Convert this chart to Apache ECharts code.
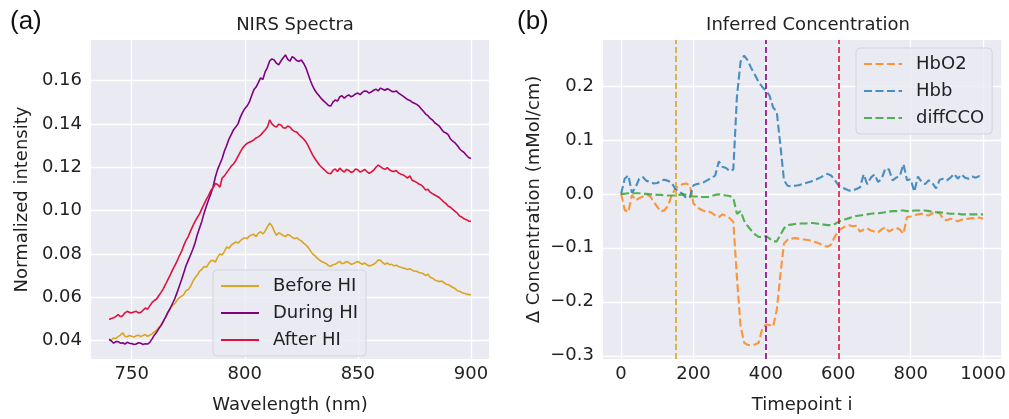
<!DOCTYPE html>
<html>
<head>
<meta charset="utf-8">
<script src="https://cdn.jsdelivr.net/npm/echarts@6/dist/echarts.min.js"></script>
<style>
html,body{margin:0;padding:0;background:#fff;}
#chart{width:1009px;height:419px;}
</style>
</head>
<body>
<div id="chart"></div>
<script>
// ---------- Panel (a): NIRS spectra ----------
const wavelengths = [740,741,742,743,744,745,746,747,748,749,750,751,752,753,754,755,756,757,758,759,
  760,761,762,763,764,765,766,767,768,769,770,771,772,773,774,775,776,777,778,779,
  780,781,782,783,784,785,786,787,788,789,790,791,792,793,794,795,796,797,798,799,
  800,801,802,803,804,805,806,807,808,809,810,811,812,813,814,815,816,817,818,819,
  820,821,822,823,824,825,826,827,828,829,830,831,832,833,834,835,836,837,838,839,
  840,841,842,843,844,845,846,847,848,849,850,851,852,853,854,855,856,857,858,859,
  860,861,862,863,864,865,866,867,868,869,870,871,872,873,874,875,876,877,878,879,
  880,881,882,883,884,885,886,887,888,889,890,891,892,893,894,895,896,897,898,899,900];
const beforeHI = [0.0408,0.0402,0.0412,0.0410,0.0418,0.0425,0.0436,0.0420,0.0418,0.0423,0.0420,0.0416,0.0422,0.0425,0.0418,0.0424,0.0428,0.0420,0.0425,0.0431,
  0.0440,0.0448,0.0462,0.0470,0.0488,0.0510,0.0530,0.0548,0.0562,0.0570,0.0585,0.0598,0.0604,0.0612,0.0630,0.0636,0.0650,0.0672,0.0690,0.0702,
  0.0720,0.0728,0.0742,0.0738,0.0755,0.0768,0.0770,0.0762,0.0785,0.0800,0.0795,0.0812,0.0832,0.0826,0.0840,0.0848,0.0855,0.0850,0.0860,0.0869,
  0.0875,0.0870,0.0882,0.0888,0.0890,0.0880,0.0896,0.0902,0.0892,0.0905,0.0925,0.0942,0.0930,0.0905,0.0885,0.0898,0.0892,0.0885,0.0880,0.0890,
  0.0885,0.0876,0.0870,0.0875,0.0866,0.0860,0.0850,0.0842,0.0830,0.0815,0.0800,0.0792,0.0780,0.0772,0.0765,0.0760,0.0755,0.0746,0.0742,0.0750,
  0.0752,0.0760,0.0765,0.0755,0.0758,0.0765,0.0760,0.0752,0.0755,0.0760,0.0765,0.0758,0.0752,0.0758,0.0750,0.0744,0.0748,0.0752,0.0760,0.0772,
  0.0770,0.0760,0.0752,0.0758,0.0750,0.0752,0.0745,0.0748,0.0742,0.0738,0.0735,0.0732,0.0728,0.0732,0.0725,0.0720,0.0720,0.0714,0.0712,0.0708,
  0.0700,0.0706,0.0692,0.0688,0.0680,0.0676,0.0672,0.0675,0.0668,0.0660,0.0658,0.0652,0.0645,0.0640,0.0630,0.0628,0.0622,0.0618,0.0615,0.0612,0.0612];
const duringHI = [0.0405,0.0398,0.0388,0.0395,0.0395,0.0388,0.0390,0.0384,0.0392,0.0388,0.0386,0.0382,0.0384,0.0390,0.0388,0.0382,0.0385,0.0384,0.0392,0.0408,
  0.0425,0.0438,0.0455,0.0470,0.0490,0.0508,0.0530,0.0548,0.0570,0.0592,0.0620,0.0650,0.0680,0.0712,0.0745,0.0770,0.0795,0.0820,0.0850,0.0888,
  0.0920,0.0950,0.0988,0.1020,0.1050,0.1078,0.1110,0.1155,0.1190,0.1215,0.1240,0.1275,0.1300,0.1330,0.1350,0.1372,0.1385,0.1400,0.1430,0.1452,
  0.1470,0.1482,0.1500,0.1530,0.1557,0.1570,0.1590,0.1612,0.1605,0.1640,0.1660,0.1690,0.1700,0.1695,0.1680,0.1672,0.1690,0.1705,0.1718,0.1698,
  0.1690,0.1710,0.1703,0.1692,0.1688,0.1695,0.1680,0.1660,0.1630,0.1600,0.1575,0.1555,0.1540,0.1528,0.1515,0.1505,0.1495,0.1485,0.1482,0.1500,
  0.1510,0.1505,0.1525,0.1530,0.1518,0.1528,0.1534,0.1525,0.1530,0.1538,0.1542,0.1535,0.1545,0.1552,0.1550,0.1542,0.1548,0.1555,0.1560,0.1552,
  0.1565,0.1560,0.1555,0.1562,0.1557,0.1550,0.1548,0.1552,0.1542,0.1535,0.1528,0.1520,0.1512,0.1508,0.1500,0.1495,0.1490,0.1482,0.1470,0.1458,
  0.1445,0.1438,0.1425,0.1418,0.1405,0.1398,0.1390,0.1375,0.1362,0.1358,0.1349,0.1330,0.1320,0.1312,0.1300,0.1285,0.1275,0.1268,0.1255,0.1245,0.1240];
const afterHI = [0.0497,0.0502,0.0505,0.0512,0.0520,0.0510,0.0515,0.0528,0.0535,0.0530,0.0528,0.0532,0.0535,0.0528,0.0530,0.0540,0.0550,0.0545,0.0560,0.0575,
  0.0585,0.0592,0.0608,0.0622,0.0640,0.0660,0.0681,0.0702,0.0725,0.0745,0.0765,0.0790,0.0810,0.0838,0.0862,0.0880,0.0905,0.0928,0.0950,0.0968,
  0.0985,0.1008,0.1030,0.1052,0.1070,0.1092,0.1105,0.1125,0.1120,0.1108,0.1150,0.1160,0.1175,0.1190,0.1205,0.1215,0.1230,0.1250,0.1270,0.1288,
  0.1300,0.1310,0.1315,0.1320,0.1326,0.1335,0.1340,0.1348,0.1360,0.1372,0.1385,0.1418,0.1400,0.1390,0.1385,0.1398,0.1395,0.1382,0.1380,0.1390,
  0.1385,0.1372,0.1365,0.1362,0.1350,0.1340,0.1330,0.1318,0.1300,0.1278,0.1257,0.1240,0.1225,0.1210,0.1200,0.1190,0.1180,0.1172,0.1170,0.1185,
  0.1192,0.1180,0.1196,0.1185,0.1178,0.1190,0.1185,0.1176,0.1180,0.1192,0.1188,0.1178,0.1182,0.1190,0.1180,0.1172,0.1178,0.1186,0.1200,0.1210,
  0.1203,0.1195,0.1190,0.1198,0.1188,0.1182,0.1180,0.1185,0.1173,0.1168,0.1165,0.1158,0.1150,0.1160,0.1140,0.1135,0.1130,0.1122,0.1118,0.1108,
  0.1095,0.1098,0.1085,0.1078,0.1072,0.1066,0.1060,0.1050,0.1040,0.1032,0.1020,0.1015,0.1005,0.0996,0.0988,0.0975,0.0970,0.0962,0.0958,0.0952,0.0950];
const spectraNames = ['Before HI','During HI','After HI'];
const leftXTicks = [750,800,850,900];
const leftYTicks = [0.04,0.06,0.08,0.10,0.12,0.14,0.16];

// ---------- Panel (b): inferred concentration ----------
const timepoints = [0,10,20,30,40,50,60,70,80,90,100,110,120,130,140,150,160,170,180,190,
  200,210,220,230,240,250,260,270,280,290,300,310,320,330,340,350,360,370,380,390,
  400,410,420,430,440,450,460,470,480,490,500,510,520,530,540,550,560,570,580,590,
  600,610,620,630,640,650,660,670,680,690,700,710,720,730,740,750,760,770,780,790,
  800,810,820,830,840,850,860,870,880,890,900,910,920,930,940,950,960,970,980,990,1000];
const hbo2 = [0.000,-0.030,-0.034,-0.002,-0.012,-0.008,-0.005,-0.002,-0.004,-0.015,-0.024,-0.033,-0.030,-0.022,-0.002,0.010,0.015,0.018,0.019,0.016,
  -0.018,-0.025,-0.029,-0.032,-0.032,-0.035,-0.040,-0.043,-0.038,-0.041,-0.045,-0.052,-0.155,-0.245,-0.276,-0.280,-0.280,-0.279,-0.276,-0.250,
  -0.242,-0.243,-0.246,-0.215,-0.150,-0.092,-0.085,-0.083,-0.082,-0.083,-0.084,-0.085,-0.086,-0.088,-0.090,-0.093,-0.096,-0.098,-0.094,-0.080,
  -0.068,-0.064,-0.060,-0.058,-0.060,-0.059,-0.070,-0.066,-0.064,-0.068,-0.070,-0.071,-0.066,-0.062,-0.070,-0.066,-0.063,-0.066,-0.074,-0.043,
  -0.042,-0.040,-0.038,-0.037,-0.039,-0.040,-0.036,-0.034,-0.036,-0.047,-0.049,-0.046,-0.048,-0.051,-0.048,-0.047,-0.046,-0.045,-0.046,-0.044,-0.046];
const hbb = [0.000,0.028,0.034,0.002,0.012,0.028,0.031,0.024,0.022,0.019,0.020,0.025,0.026,0.024,0.020,0.009,0.004,0.000,-0.008,-0.006,
  0.016,0.018,0.020,0.022,0.026,0.029,0.034,0.060,0.050,0.048,0.042,0.045,0.180,0.245,0.256,0.247,0.232,0.220,0.207,0.198,
  0.191,0.182,0.160,0.152,0.090,0.025,0.015,0.014,0.015,0.016,0.018,0.020,0.022,0.024,0.027,0.030,0.034,0.037,0.034,0.026,
  0.016,0.012,0.009,0.006,0.006,0.009,0.012,0.036,0.018,0.030,0.036,0.022,0.028,0.047,0.045,0.025,0.030,0.033,0.055,0.025,
  0.027,0.004,0.032,0.022,0.018,0.025,0.020,0.010,0.026,0.028,0.025,0.030,0.037,0.028,0.036,0.030,0.028,0.032,0.030,0.033,0.034];
const diffCCO = [0.000,0.000,0.001,0.001,0.001,0.001,0.000,0.000,-0.001,-0.001,-0.002,-0.002,-0.003,-0.003,-0.003,-0.003,-0.002,-0.001,-0.002,-0.004,
  -0.005,-0.005,-0.006,-0.006,-0.006,-0.004,-0.002,-0.001,-0.002,-0.003,-0.004,-0.008,-0.037,-0.032,-0.050,-0.060,-0.068,-0.075,-0.080,-0.080,
  -0.078,-0.083,-0.088,-0.088,-0.076,-0.064,-0.058,-0.057,-0.056,-0.055,-0.055,-0.055,-0.054,-0.054,-0.055,-0.056,-0.057,-0.058,-0.058,-0.056,
  -0.052,-0.049,-0.047,-0.045,-0.043,-0.041,-0.040,-0.039,-0.038,-0.037,-0.036,-0.036,-0.035,-0.034,-0.033,-0.032,-0.032,-0.031,-0.031,-0.032,
  -0.032,-0.031,-0.031,-0.031,-0.031,-0.032,-0.033,-0.034,-0.034,-0.035,-0.036,-0.037,-0.037,-0.037,-0.038,-0.038,-0.038,-0.038,-0.038,-0.038,-0.038];
const concNames = ['HbO2','Hbb','diffCCO'];
const eventTimes = [150,400,600];
const rightXTicks = [0,200,400,600,800,1000];
const rightYTicks = [-0.3,-0.2,-0.1,0.0,0.1,0.2];

const FONT = 'DejaVu Sans';
const BG = '#EAEAF2';
const spectraColors = ['#DAA520','#800080','#DC143C'];
const concColors = ['#FF7F0E','#1F77B4','#2CA02C'];

function pairs(xs, ys){ return xs.map((x,i)=>[x, ys[i]]); }
function minus(s){ return s.replace('-', '\u2212'); }

const axisCommon = {
  axisLine:{show:false},
  axisTick:{show:false},
  splitLine:{show:true, lineStyle:{color:'#ffffff', width:1.3}},
  nameTextStyle:{fontFamily:FONT, fontSize:18, color:'#222'},
};
const legendCommon = {
  orient:'vertical', itemWidth:38, itemHeight:14, itemGap:7,
  padding:[6,8,6,7], backgroundColor:'rgba(234,234,242,0.8)', borderColor:'#d4d4dc', borderWidth:1, borderRadius:4,
  itemStyle:{opacity:0},
  textStyle:{fontFamily:FONT, fontSize:18, color:'#222', lineHeight:20, padding:[0,0,0,9]}
};

const option = {
  animation:false,
  backgroundColor:'#ffffff',
  title:[
    {text:'NIRS Spectra', left:290, top:11, textAlign:'center', textStyle:{fontFamily:FONT, fontSize:18, fontWeight:'normal', color:'#222'}},
    {text:'Inferred Concentration', left:803, top:11, textAlign:'center', textStyle:{fontFamily:FONT, fontSize:18, fontWeight:'normal', color:'#222'}},
    {text:'(a)', left:5, top:4, textStyle:{fontFamily:'Liberation Sans', fontSize:26, fontWeight:'normal', color:'#111'}},
    {text:'(b)', left:512, top:4, textStyle:{fontFamily:'Liberation Sans', fontSize:26, fontWeight:'normal', color:'#111'}}
  ],
  grid:[
    {left:91, top:40, width:398, height:319, show:true, backgroundColor:BG, borderWidth:0},
    {left:603, top:40, width:400, height:319, show:true, backgroundColor:BG, borderWidth:0}
  ],
  legend:[
    Object.assign({}, legendCommon, {data:spectraNames, left:213, top:270}),
    Object.assign({}, legendCommon, {data:concNames, left:856, top:48})
  ],
  xAxis:[
    Object.assign({}, axisCommon, {gridIndex:0, type:'value', min:732, max:908,
      name:'Wavelength (nm)', nameLocation:'middle', nameGap:37,
      axisTick:{show:false, customValues:leftXTicks},
      axisLabel:{customValues:leftXTicks, fontFamily:FONT, fontSize:18, color:'#222', margin:6, formatter:v=>String(v)}}),
    Object.assign({}, axisCommon, {gridIndex:1, type:'value', min:-50, max:1050,
      name:'Timepoint i', nameLocation:'middle', nameGap:37,
      axisTick:{show:false, customValues:rightXTicks},
      axisLabel:{customValues:rightXTicks, fontFamily:FONT, fontSize:18, color:'#222', margin:6, formatter:v=>String(v)}})
  ],
  yAxis:[
    Object.assign({}, axisCommon, {gridIndex:0, type:'value', min:0.0315, max:0.1787,
      name:'Normalized intensity', nameLocation:'middle', nameGap:60,
      axisTick:{show:false, customValues:leftYTicks},
      axisLabel:{customValues:leftYTicks, fontFamily:FONT, fontSize:18, color:'#222', margin:9,
        formatter:v=>v.toFixed(2)}}),
    Object.assign({}, axisCommon, {gridIndex:1, type:'value', min:-0.306, max:0.285,
      name:'\u0394 Concentration (mMol/cm)', nameLocation:'middle', nameGap:60,
      axisTick:{show:false, customValues:rightYTicks},
      axisLabel:{customValues:rightYTicks, fontFamily:FONT, fontSize:18, color:'#222', margin:9,
        formatter:v=>minus((Math.abs(v)<1e-9?0:v).toFixed(1))}})
  ],
  series:[
    {name:spectraNames[0], type:'line', xAxisIndex:0, yAxisIndex:0, data:pairs(wavelengths,beforeHI), showSymbol:false, symbol:'none',
      lineStyle:{color:spectraColors[0], width:1.6}, itemStyle:{color:spectraColors[0]}},
    {name:spectraNames[1], type:'line', xAxisIndex:0, yAxisIndex:0, data:pairs(wavelengths,duringHI), showSymbol:false, symbol:'none',
      lineStyle:{color:spectraColors[1], width:1.6}, itemStyle:{color:spectraColors[1]}},
    {name:spectraNames[2], type:'line', xAxisIndex:0, yAxisIndex:0, data:pairs(wavelengths,afterHI), showSymbol:false, symbol:'none',
      lineStyle:{color:spectraColors[2], width:1.6}, itemStyle:{color:spectraColors[2]}},
    {name:concNames[0], type:'line', xAxisIndex:1, yAxisIndex:1, data:pairs(timepoints,hbo2), showSymbol:false, symbol:'none', z:3,
      lineStyle:{color:concColors[0], width:2.1, type:[8,3.5], opacity:0.8}, itemStyle:{color:concColors[0], opacity:0.8},
      markLine:{silent:true, symbol:'none', label:{show:false},
        data:eventTimes.map((t,i)=>({xAxis:t, lineStyle:{color:spectraColors[i], width:1.6, type:[6,3], opacity:1}}))}},
    {name:concNames[1], type:'line', xAxisIndex:1, yAxisIndex:1, data:pairs(timepoints,hbb), showSymbol:false, symbol:'none', z:3,
      lineStyle:{color:concColors[1], width:2.1, type:[8,3.5], opacity:0.8}, itemStyle:{color:concColors[1], opacity:0.8}},
    {name:concNames[2], type:'line', xAxisIndex:1, yAxisIndex:1, data:pairs(timepoints,diffCCO), showSymbol:false, symbol:'none', z:3,
      lineStyle:{color:concColors[2], width:2.1, type:[8,3.5], opacity:0.8}, itemStyle:{color:concColors[2], opacity:0.8}}
  ]
};
const chart = echarts.init(document.getElementById('chart'), null, {renderer:'canvas'});
chart.setOption(option);
</script>
</body>
</html>
